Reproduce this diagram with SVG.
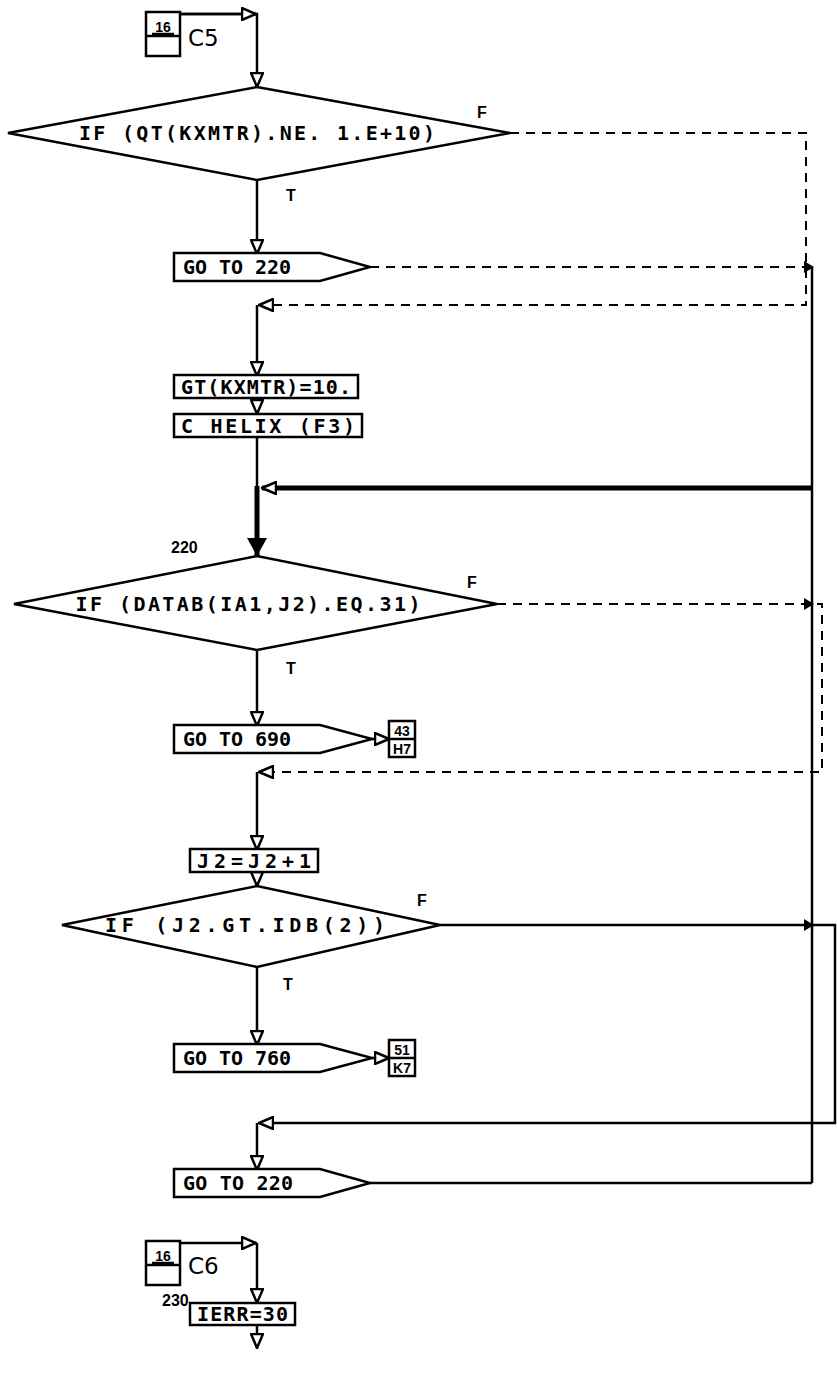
<svg xmlns="http://www.w3.org/2000/svg" width="837" height="1374" viewBox="0 0 837 1374">
<style>
.bg{fill:#fff}
.box{fill:#fff;stroke:#000;stroke-width:2.5}
.ln{fill:none;stroke:#000;stroke-width:2.5}
.dash{fill:none;stroke:#000;stroke-width:2;stroke-dasharray:9 7}
.thick{fill:none;stroke:#000;stroke-width:5}
.t{font-family:"DejaVu Sans Mono","Liberation Mono",monospace;font-weight:bold;font-size:20px;fill:#000}
.lab{font-family:"Liberation Sans",Arial,sans-serif;font-weight:bold;font-size:16px;fill:#000}
.cn{font-family:"DejaVu Sans","Liberation Sans",sans-serif;font-size:23px;fill:#000}
.pg{font-family:"Liberation Sans",Arial,sans-serif;font-weight:bold;font-size:14px;fill:#000}
</style>
<defs>
<marker id="ah" viewBox="0 0 16 14" refX="15" refY="7" markerWidth="16" markerHeight="14" markerUnits="userSpaceOnUse" orient="auto">
<path d="M1,1 L15,7 L1,13 Z" fill="#fff" stroke="#000" stroke-width="2.5"/>
</marker>
<marker id="ahf" viewBox="0 0 18 20" refX="18" refY="10" markerWidth="18" markerHeight="20" markerUnits="userSpaceOnUse" orient="auto">
<path d="M0,0 L18,10 L0,20 Z" fill="#000"/>
</marker>
</defs>
<rect class="bg" x="0" y="0" width="837" height="1374"/>

<g id="connectors">
<path class="ln" d="M180,14 H257 V87" marker-end="url(#ah)"/>
<path class="ln" d="M180,14 H256" marker-end="url(#ah)"/>
<path class="ln" d="M257,180 V254" marker-end="url(#ah)"/>
<path class="dash" d="M510,133 H806 V305 H259" marker-end="url(#ah)"/>
<path class="ln" d="M257,305 V376" marker-end="url(#ah)"/>
<path class="ln" d="M257,398 V414" marker-end="url(#ah)"/>
<path class="ln" d="M257,437 V490"/>
<path class="thick" d="M257,486 V556" marker-end="url(#ahf)"/>
<path class="dash" d="M370,267 H812"/>
<path class="ln" d="M812,267 V1183"/>
<path class="thick" d="M812,488 H262" marker-end="url(#ah)"/>
<path class="ln" d="M370,1183 H812"/>
<path class="ln" d="M257,650 V726" marker-end="url(#ah)"/>
<path class="ln" d="M372,739 H389" marker-end="url(#ah)"/>
<path class="dash" d="M497,604 H822 V772 H259" marker-end="url(#ah)"/>
<path class="ln" d="M257,772 V850" marker-end="url(#ah)"/>
<path class="ln" d="M257,872 V886" marker-end="url(#ah)"/>
<path class="ln" d="M257,967 V1045" marker-end="url(#ah)"/>
<path class="ln" d="M372,1058 H389" marker-end="url(#ah)"/>
<path class="ln" d="M440,925 H835 V1123 H259" marker-end="url(#ah)"/>
<path class="ln" d="M257,1123 V1170" marker-end="url(#ah)"/>
<path class="ln" d="M180,1243 H256" marker-end="url(#ah)"/>
<path class="ln" d="M257,1243 V1303" marker-end="url(#ah)"/>
<path class="ln" d="M257,1325 V1348" marker-end="url(#ah)"/>
<path d="M804,261 L814,267 L804,273 Z" fill="#000"/>
<path d="M804,598 L814,604 L804,610 Z" fill="#000"/>
<path d="M804,919 L814,925 L804,931 Z" fill="#000"/>
</g>

<g id="conn-c5">
<rect class="box" x="146" y="12" width="34" height="44"/>
<line class="ln" x1="146" y1="36" x2="180" y2="36"/>
<text class="pg" x="163" y="32" text-anchor="middle">16</text>
<line class="ln" x1="152" y1="34" x2="174" y2="34"/>
<text class="cn" x="188" y="46">C5</text>
</g>

<g id="d1">
<polygon class="box" points="8,133 257,87 510,133 257,180"/>
<text class="t" x="257" y="140" text-anchor="middle" textLength="356" lengthAdjust="spacing">IF (QT(KXMTR).NE. 1.E+10)</text>
<text class="lab" x="477" y="118">F</text>
<text class="lab" x="286" y="201">T</text>
</g>

<g id="goto220a">
<polygon class="box" points="174,253 320,253 370,267 320,281 174,281"/>
<text class="t" x="183" y="274" textLength="108" lengthAdjust="spacing">GO TO 220</text>
</g>

<g id="gt">
<rect class="box" x="174" y="375" width="184" height="23"/>
<text class="t" x="181" y="394" textLength="170" lengthAdjust="spacing">GT(KXMTR)=10.</text>
</g>

<g id="helix">
<rect class="box" x="174" y="414" width="188" height="23"/>
<text class="t" x="181" y="433" textLength="174" lengthAdjust="spacing">C HELIX  (F3)</text>
</g>

<g id="d2">
<text class="lab" x="171" y="553">220</text>
<polygon class="box" points="14,604 257,556 497,604 257,650"/>
<text class="t" x="248" y="611" text-anchor="middle" textLength="345" lengthAdjust="spacing">IF (DATAB(IA1,J2).EQ.31)</text>
<text class="lab" x="467" y="588">F</text>
<text class="lab" x="286" y="674">T</text>
</g>

<g id="goto690">
<polygon class="box" points="174,725 320,725 372,739 320,753 174,753"/>
<text class="t" x="183" y="746" textLength="108" lengthAdjust="spacing">GO TO 690</text>
</g>

<g id="conn-43">
<rect class="box" x="389" y="721" width="26" height="36"/>
<line class="ln" x1="389" y1="739" x2="415" y2="739"/>
<text class="pg" x="402" y="736" text-anchor="middle">43</text>
<text class="pg" x="402" y="754" text-anchor="middle">H7</text>
</g>

<g id="j2">
<rect class="box" x="190" y="849" width="128" height="23"/>
<text class="t" x="197" y="868" textLength="114" lengthAdjust="spacing">J2=J2+1</text>
</g>

<g id="d3">
<polygon class="box" points="62,925 257,886 440,925 257,967"/>
<text class="t" x="245" y="932" text-anchor="middle" textLength="280" lengthAdjust="spacing">IF (J2.GT.IDB(2))</text>
<text class="lab" x="417" y="906">F</text>
<text class="lab" x="283" y="990">T</text>
</g>

<g id="goto760">
<polygon class="box" points="174,1044 320,1044 372,1058 320,1072 174,1072"/>
<text class="t" x="183" y="1065" textLength="108" lengthAdjust="spacing">GO TO 760</text>
</g>

<g id="conn-51">
<rect class="box" x="389" y="1040" width="26" height="36"/>
<line class="ln" x1="389" y1="1058" x2="415" y2="1058"/>
<text class="pg" x="402" y="1055" text-anchor="middle">51</text>
<text class="pg" x="402" y="1073" text-anchor="middle">K7</text>
</g>

<g id="goto220b">
<polygon class="box" points="174,1169 320,1169 370,1183 320,1197 174,1197"/>
<text class="t" x="183" y="1190" textLength="110" lengthAdjust="spacing">GO TO 220</text>
</g>

<g id="conn-c6">
<rect class="box" x="146" y="1241" width="34" height="44"/>
<line class="ln" x1="146" y1="1265" x2="180" y2="1265"/>
<text class="pg" x="163" y="1261" text-anchor="middle">16</text>
<line class="ln" x1="152" y1="1263" x2="174" y2="1263"/>
<text class="cn" x="188" y="1274">C6</text>
</g>

<g id="ierr">
<text class="lab" x="162" y="1306">230</text>
<rect class="box" x="190" y="1303" width="105" height="22"/>
<text class="t" x="197" y="1321" textLength="91" lengthAdjust="spacing">IERR=30</text>
</g>
</svg>
